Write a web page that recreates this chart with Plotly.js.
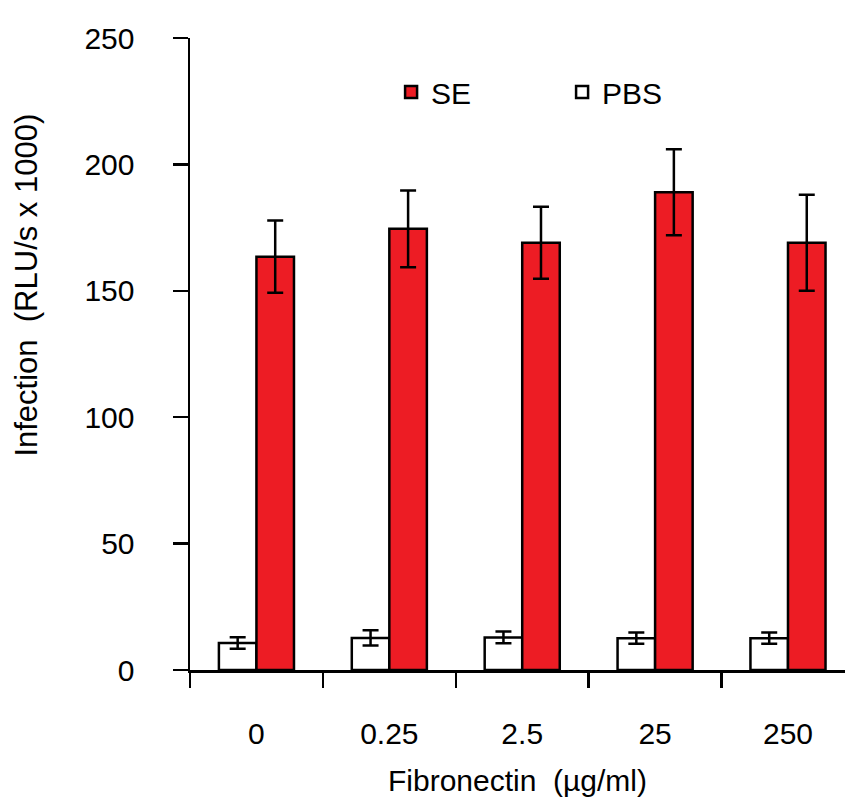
<!DOCTYPE html>
<html>
<head>
<meta charset="utf-8">
<script src="https://cdn.plot.ly/plotly-3.0.1.min.js"></script>
<style>html,body{margin:0;padding:0;background:#fff;}#chart{width:845px;height:807px;}</style>
</head>
<body>
<div id="chart"></div>
<script>
// Fibronectin concentrations (µg/ml)
var concentrations = ['0', '0.25', '2.5', '25', '250'];
// Infection (RLU/s x 1000)
var seValues  = [163.5, 174.5, 169.0, 189.0, 169.0];
var seErrors  = [14.3, 15.2, 14.2, 17.0, 19.0];
var pbsValues = [10.7, 12.7, 12.9, 12.6, 12.6];
var pbsErrors = [2.3, 3.0, 2.3, 2.2, 2.2];
var yTicks = [0, 50, 100, 150, 200, 250];

var FONT = 'Liberation Sans, Arial, sans-serif';

var pbsTrace = {
  type: 'bar', name: 'PBS', x: concentrations, y: pbsValues,
  marker: {color: '#ffffff', line: {color: '#000000', width: 2.5}},
  error_y: {type: 'data', array: pbsErrors, visible: true, color: '#000000', thickness: 2.5, width: 8}
};
var seTrace = {
  type: 'bar', name: 'SE', x: concentrations, y: seValues,
  marker: {color: '#ED1C24', line: {color: '#000000', width: 2.5}},
  error_y: {type: 'data', array: seErrors, visible: true, color: '#000000', thickness: 2.5, width: 8}
};

var layout = {
  width: 845, height: 807,
  margin: {l: 190, r: 0, t: 38, b: 137},
  paper_bgcolor: '#ffffff', plot_bgcolor: '#ffffff',
  font: {family: FONT, size: 30, color: '#000000'},
  barmode: 'group', bargap: 0.435, bargroupgap: 0,
  showlegend: true,
  legend: {
    orientation: 'h', traceorder: 'reversed',
    x: 0.307, xanchor: 'left', y: 0.9146, yanchor: 'middle',
    font: {family: FONT, size: 30, color: '#000000'},
    bgcolor: 'rgba(0,0,0,0)', borderwidth: 0,
    entrywidth: 126, entrywidthmode: 'pixels'
  },
  xaxis: {
    type: 'category', range: [-0.5, 4.429],
    tickson: 'boundaries', ticks: 'outside', ticklen: 15, tickwidth: 2.5, tickcolor: '#000',
    showline: true, linecolor: '#000', linewidth: 2.5,
    showgrid: false, zeroline: false,
    tickfont: {family: FONT, size: 30}, ticklabelstandoff: 35,
    title: {text: 'Fibronectin  (µg/ml)', font: {family: FONT, size: 30}, standoff: 22}
  },
  yaxis: {
    range: [0, 250], tickvals: yTicks,
    ticks: 'outside', ticklen: 15, tickwidth: 2.5, tickcolor: '#000',
    showline: true, linecolor: '#000', linewidth: 2.5,
    showgrid: false, zeroline: false,
    tickfont: {family: FONT, size: 30}, ticklabelstandoff: 32
  },
  annotations: [{
    text: 'Infection  (RLU/s x 1000)', textangle: -90,
    xref: 'paper', yref: 'paper', x: -0.2496, y: 0.609,
    xanchor: 'center', yanchor: 'middle', showarrow: false,
    font: {family: FONT, size: 31, color: '#000'}
  }]
};

Plotly.newPlot('chart', [pbsTrace, seTrace], layout, {displayModeBar: false, staticPlot: true});
</script>
</body>
</html>
